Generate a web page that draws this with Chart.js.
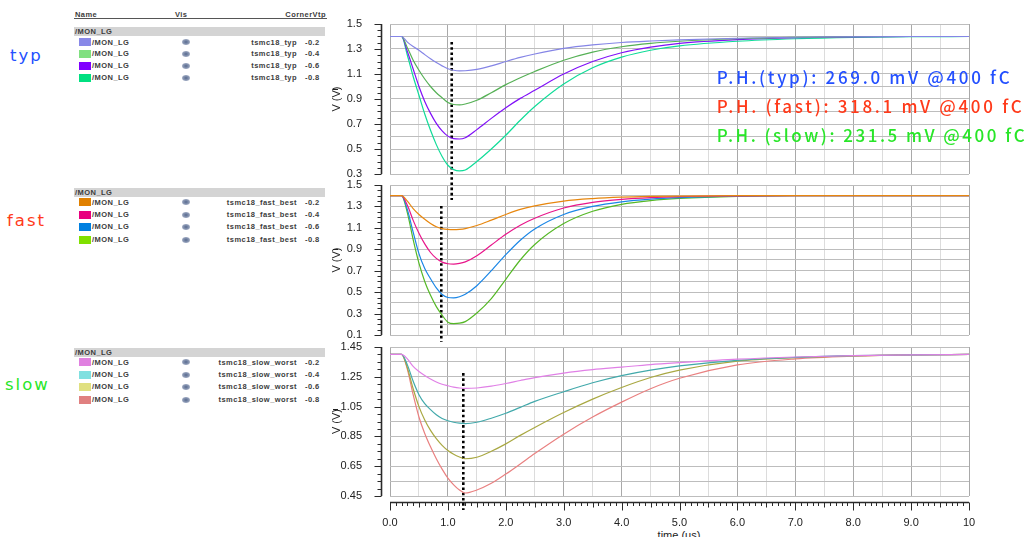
<!DOCTYPE html>
<html><head><meta charset="utf-8">
<script src="https://cdn.jsdelivr.net/npm/chart.js@4.4.1/dist/chart.umd.min.js"></script>
<style>
html,body{margin:0;padding:0;background:#fff;}
body{width:1029px;height:537px;overflow:hidden;position:relative;font-family:"Liberation Sans",Arial,sans-serif;}
canvas{position:absolute;}
.t{position:absolute;white-space:nowrap;line-height:1;}
.lg{font-size:7.5px;font-weight:bold;color:#3c3c3c;letter-spacing:0.45px;}
.bar{position:absolute;left:74px;width:251px;height:8.5px;background:#d4d4d4;}
.sw{position:absolute;left:79px;width:12px;height:8px;}
.eye{position:absolute;width:8px;height:6px;border-radius:50%;background:radial-gradient(ellipse at center,#56698e 0%,#8d9ab5 55%,#dfe4ee 100%);filter:blur(0.4px);}
.mk{position:absolute;left:333px;width:5px;height:1px;background:#222;}
.side{font-family:"DejaVu Sans",sans-serif;font-size:16.5px;letter-spacing:2px;}
.ph{font-family:"Noto Sans CJK JP","DejaVu Sans",sans-serif;font-size:17px;font-weight:500;}
</style>
</head><body>
<canvas id="c3" width="709" height="200" style="left:320px;top:337px;z-index:1"></canvas>
<canvas id="c2" width="709" height="172" style="left:320px;top:175px;z-index:2"></canvas>
<canvas id="c1" width="709" height="200" style="left:320px;top:10px;z-index:3"></canvas>
<div id="overlay"></div>
<script>
// ---------------- data ----------------
const timeUs = [0,0.2,0.3,0.4,0.5,0.6,0.7,0.8,0.9,1.0,1.1,1.2,1.3,1.5,1.75,2.0,2.25,2.5,3.0,3.5,4.0,4.5,5.0,6.0,7.0,8.0,9.0,10.0];

const typVtp02 = [1.4,1.4,1.355,1.32,1.29,1.255,1.222,1.192,1.165,1.142,1.13,1.125,1.126,1.137,1.165,1.2,1.233,1.26,1.305,1.333,1.352,1.364,1.373,1.386,1.394,1.398,1.4,1.4];
const typVtp04 = [1.4,1.4,1.31,1.21,1.13,1.06,1.0,0.95,0.91,0.872,0.856,0.853,0.86,0.89,0.95,1.015,1.07,1.12,1.21,1.275,1.318,1.345,1.362,1.382,1.393,1.398,1.4,1.4];
const typVtp06 = [1.4,1.4,1.28,1.14,1.0,0.88,0.785,0.705,0.645,0.603,0.583,0.58,0.59,0.655,0.745,0.83,0.905,0.97,1.1,1.2,1.27,1.315,1.345,1.375,1.39,1.397,1.4,1.4];
const typVtp08 = [1.4,1.4,1.25,1.08,0.93,0.78,0.65,0.535,0.44,0.37,0.335,0.325,0.332,0.4,0.5,0.61,0.73,0.84,1.02,1.15,1.235,1.29,1.325,1.362,1.382,1.393,1.398,1.4];

const fastVtp02 = [1.4,1.4,1.35,1.28,1.225,1.18,1.14,1.11,1.093,1.085,1.083,1.086,1.093,1.122,1.172,1.225,1.272,1.305,1.35,1.373,1.386,1.393,1.397,1.4,1.4,1.4,1.4,1.4];
const fastVtp04 = [1.4,1.4,1.31,1.17,1.05,0.95,0.87,0.815,0.78,0.765,0.762,0.768,0.782,0.84,0.94,1.04,1.125,1.19,1.285,1.337,1.366,1.383,1.392,1.398,1.4,1.4,1.4,1.4];
const fastVtp06 = [1.4,1.4,1.27,1.06,0.86,0.72,0.625,0.54,0.478,0.45,0.446,0.457,0.48,0.56,0.7,0.85,0.985,1.09,1.225,1.3,1.343,1.368,1.382,1.396,1.4,1.4,1.4,1.4];
const fastVtp08 = [1.4,1.4,1.24,0.99,0.77,0.6,0.47,0.365,0.285,0.22,0.207,0.21,0.225,0.305,0.44,0.62,0.8,0.945,1.14,1.255,1.32,1.355,1.375,1.394,1.4,1.4,1.4,1.4];

const slowVtp02 = [1.4,1.4,1.37,1.32,1.285,1.258,1.235,1.215,1.2,1.19,1.181,1.175,1.172,1.175,1.187,1.205,1.225,1.244,1.275,1.298,1.315,1.332,1.345,1.368,1.383,1.392,1.397,1.4];
const slowVtp04 = [1.4,1.4,1.33,1.22,1.13,1.07,1.03,0.995,0.97,0.955,0.945,0.939,0.936,0.945,0.972,1.005,1.045,1.085,1.15,1.21,1.258,1.295,1.323,1.36,1.38,1.392,1.397,1.4];
const slowVtp06 = [1.4,1.4,1.31,1.17,1.05,0.96,0.89,0.835,0.79,0.755,0.73,0.712,0.7,0.71,0.75,0.8,0.857,0.91,1.01,1.1,1.178,1.245,1.295,1.355,1.378,1.39,1.397,1.4];
const slowVtp08 = [1.4,1.4,1.3,1.13,0.98,0.87,0.78,0.7,0.63,0.57,0.525,0.49,0.47,0.49,0.535,0.597,0.665,0.735,0.865,0.98,1.08,1.17,1.24,1.33,1.37,1.388,1.397,1.4];

// peak-time markers: [time, top value, bottom value]
const typPeakMarker  = [1.066, 1.356, 0.092];
const fastPeakMarker = [0.886, 1.304, 0.035];
const slowPeakMarker = [1.266, 1.275, 0.356];

// tick labels
const typTickLabels  = [0.3,0.5,0.7,0.9,1.1,1.3,1.5];
const fastTickLabels = [0.1,0.3,0.5,0.7,0.9,1.1,1.3,1.5];
const slowTickLabels = [0.45,0.65,0.85,1.05,1.25,1.45];
const xTickLabels = ['0.0','1.0','2.0','3.0','4.0','5.0','6.0','7.0','8.0','9.0','10'];

// legend text
const vtpLabels = ['-0.2','-0.4','-0.6','-0.8'];
const cornerNames = ['tsmc18_typ','tsmc18_fast_best','tsmc18_slow_worst'];
const phTexts = ['P.H.(typ): 269.0 mV @400 fC','P.H. (fast): 318.1 mV @400 fC','P.H. (slow): 231.5 mV @400 fC'];
const sideLabels = ['typ','fast','slow'];

// ---------------- styles ----------------
const typLine  = ['#8585e6','#55b055','#8010f8','#10dc98'];
const fastLine = ['#e8870e','#e8158a','#1a86e6','#55b826'];
const slowLine = ['#e080e6','#42a9ab','#a9a842','#e98080'];
const typSwatch  = ['#8888e8','#80e080','#8000ff','#00e080'];
const fastSwatch = ['#e08000','#e8007e','#0080e0','#80e000'];
const slowSwatch = ['#e080e0','#80e0e0','#e0e080','#e08080'];
const textColors = ['#2450ff','#ff3a1a','#28e628'];

Chart.defaults.font.family = '"Liberation Sans", Arial, sans-serif';

const axisDecor = {
  id: 'axisDecor',
  afterDraw(chart, args, opts) {
    const ctx = chart.ctx, a = chart.chartArea, ys = chart.scales.y, xs = chart.scales.x;
    ctx.save();
    ctx.strokeStyle = '#2a2a2a';
    const ax = Math.round(a.left - 9) + 0.5;
    ctx.lineWidth = 1.6;
    ctx.beginPath(); ctx.moveTo(ax, a.top); ctx.lineTo(ax, a.bottom); ctx.stroke();
    ctx.lineWidth = 1;
    const n = Math.round((ys.max - ys.min) / 0.05);
    for (let k = 0; k <= n; k++) {
      const v = ys.min + k * 0.05;
      const major = opts.labels.some(l => Math.abs(l - v) < 1e-6);
      const p = Math.round(ys.getPixelForValue(v)) + 0.5;
      ctx.beginPath(); ctx.moveTo(ax, p); ctx.lineTo(ax - (major ? 7 : 4), p); ctx.stroke();
    }
    if (opts.xAxis) {
      const ay = Math.round(a.bottom + 6) + 0.5;
      ctx.lineWidth = 1.6;
      ctx.beginPath(); ctx.moveTo(a.left, ay); ctx.lineTo(a.right, ay); ctx.stroke();
      ctx.lineWidth = 1;
      for (let k = 0; k <= 100; k++) {
        const v = k / 10;
        const len = (k % 10 === 0) ? 8 : (k % 5 === 0 ? 5 : 3.5);
        const p = Math.round(xs.getPixelForValue(v)) + 0.5;
        ctx.beginPath(); ctx.moveTo(p, ay); ctx.lineTo(p, ay + len); ctx.stroke();
      }
    }
    ctx.restore();
  }
};

function makePanel(id, series, colors, yMin, yMax, labels, decimals, marker, bottom, padTop, padBottom) {
  const datasets = series.map((vals, i) => ({
    data: timeUs.map((t, j) => ({x: t, y: vals[j]})),
    borderColor: colors[i], borderWidth: 1.2, pointRadius: 0, fill: false,
    cubicInterpolationMode: 'monotone'
  }));
  datasets.push({
    data: [{x: marker[0], y: marker[1]}, {x: marker[0], y: marker[2]}],
    borderColor: '#000', borderWidth: 2.6, borderDash: [2.6, 2.6], pointRadius: 0,
    fill: false, clip: false, tension: 0
  });
  const yGrid = [];
  const ny = Math.round((yMax - yMin) / 0.1);
  for (let k = 0; k <= ny; k++) yGrid.push(+(yMin + k * 0.1).toFixed(3));
  const xGrid = [];
  for (let k = 0; k <= 20; k++) xGrid.push(k / 2);
  return new Chart(document.getElementById(id), {
    type: 'line',
    data: {datasets},
    plugins: [axisDecor],
    options: {
      responsive: false, animation: false, events: [],
      layout: {padding: {left: 0, right: 60, top: padTop, bottom: padBottom}},
      plugins: {legend: {display: false}, tooltip: {enabled: false},
        axisDecor: {labels, xAxis: bottom}},
      scales: {
        x: {
          type: 'linear', min: 0, max: 10,
          afterFit: s => { s.height = bottom ? 41 : 0; },
          afterBuildTicks: s => { s.ticks = xGrid.map(v => ({value: v})); },
          ticks: {display: bottom, autoSkip: false, maxRotation: 0, padding: 0,
            color: '#222', font: {size: 11},
            callback: v => (Number.isInteger(v) ? xTickLabels[v] : '')},
          grid: {drawTicks: bottom, tickLength: 20, tickColor: 'rgba(0,0,0,0)', lineWidth: 1,
            color: c => (Number.isInteger(c.tick.value) ? '#a9a9a9' : '#dcdcdc')},
          border: {display: false}
        },
        y: {
          type: 'linear', min: yMin, max: yMax,
          afterFit: s => { s.width = 70; },
          afterBuildTicks: s => { s.ticks = yGrid.map(v => ({value: v})); },
          ticks: {autoSkip: false, padding: 0, color: '#222', font: {size: 11},
            callback: v => (labels.some(l => Math.abs(l - v) < 1e-6) ? v.toFixed(decimals) : '')},
          grid: {drawTicks: true, tickLength: 28, tickColor: 'rgba(0,0,0,0)', color: '#bdbdbd', lineWidth: 1},
          border: {display: false},
          title: {display: true, text: 'V (V)', color: '#222', font: {size: 11}, padding: {top: 10, bottom: 0}}
        }
      }
    }
  });
}

makePanel('c1', [typVtp02, typVtp04, typVtp06, typVtp08], typLine, 0.3, 1.5, typTickLabels, 1, typPeakMarker, false, 14, 36);
makePanel('c2', [fastVtp02, fastVtp04, fastVtp06, fastVtp08], fastLine, 0.1, 1.5, fastTickLabels, 1, fastPeakMarker, false, 10, 12);
makePanel('c3', [slowVtp02, slowVtp04, slowVtp06, slowVtp08], slowLine, 0.45, 1.45, slowTickLabels, 2, slowPeakMarker, true, 10, 0);

// ---------------- HTML overlay ----------------
const ov = document.getElementById('overlay');
function addDiv(cls, style, text) {
  const d = document.createElement('div');
  d.className = cls; d.setAttribute('style', style);
  if (text !== undefined) d.textContent = text;
  ov.appendChild(d); return d;
}
addDiv('t lg', 'left:75px;top:11px;', 'Name');
addDiv('t lg', 'left:175px;top:11px;', 'Vis');
addDiv('t lg', 'right:' + (1029 - 326) + 'px;top:11px;', 'CornerVtp');
addDiv('', 'position:absolute;left:74px;top:18px;width:253px;height:1px;background:#555;');

const groups = [
  {barTop: 27.3, rowTop: 42.3, step: 11.8, swatch: typSwatch, corner: cornerNames[0], mark: 89},
  {barTop: 188.3, rowTop: 202.3, step: 12.45, swatch: fastSwatch, corner: cornerNames[1], mark: 249},
  {barTop: 348.3, rowTop: 362.3, step: 12.45, swatch: slowSwatch, corner: cornerNames[2], mark: 409}
];
groups.forEach(g => {
  addDiv('bar', 'top:' + g.barTop + 'px;');
  addDiv('t lg', 'left:75px;top:' + (g.barTop + 0.8) + 'px;', '/MON_LG');
  for (let i = 0; i < 4; i++) {
    const cy = g.rowTop + i * g.step;
    addDiv('sw', 'top:' + (cy - 4) + 'px;background:' + g.swatch[i] + ';');
    addDiv('t lg', 'left:92px;top:' + (cy - 3.8) + 'px;', '/MON_LG');
    addDiv('eye', 'left:182px;top:' + (cy - 3) + 'px;');
    addDiv('t lg', 'right:' + (1029 - 297) + 'px;top:' + (cy - 3.8) + 'px;', g.corner);
    addDiv('t lg', 'left:305px;top:' + (cy - 3.8) + 'px;', vtpLabels[i]);
  }
  addDiv('mk', 'top:' + g.mark + 'px;');
});

addDiv('t side', 'left:10px;top:48px;color:' + textColors[0] + ';', sideLabels[0]);
addDiv('t side', 'left:7px;top:213px;color:' + textColors[1] + ';', sideLabels[1]);
addDiv('t side', 'left:5px;top:377px;color:' + textColors[2] + ';', sideLabels[2]);

const phPos = [[716.7, 67.5, 293], [716.7, 96.5, 305], [716.7, 125.5, 308]];
phTexts.forEach((txt, i) => {
  const d = addDiv('t ph', 'left:' + phPos[i][0] + 'px;top:' + phPos[i][1] + 'px;color:' + textColors[i] + ';z-index:5;', txt);
  d.style.letterSpacing = '0px';
  const nat = d.getBoundingClientRect().width;
  d.style.letterSpacing = ((phPos[i][2] - nat) / (txt.length - 1)) + 'px';
});

addDiv('t', 'left:0;width:1358px;text-align:center;top:530px;font-size:11px;color:#222;', 'time (us)');
</script>
</body></html>
